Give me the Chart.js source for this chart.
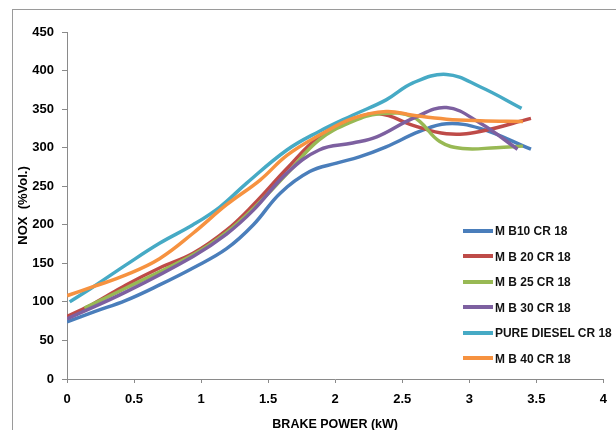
<!DOCTYPE html>
<html>
<head>
<meta charset="utf-8">
<script src="https://cdn.jsdelivr.net/npm/chart.js@4.4.1/dist/chart.umd.min.js"></script>
<style>
  html, body { margin: 0; padding: 0; background: #fff; overflow: hidden; }
  #wrap { position: relative; width: 616px; height: 430px; }
  #frame { position: absolute; left: 12px; top: 9px; width: 700px; height: 500px; border: 1px solid #9a9a9a; }
  #chart { position: absolute; left: 0; top: 0; }
  #legend { position: absolute; left: 463px; top: 218px; font: bold 13px "Liberation Sans", Arial, sans-serif; color: #111; }
  .item { height: 25.5px; display: flex; align-items: center; white-space: nowrap; }
  .swatch { width: 30px; height: 4px; margin-right: 2px; flex: none; }
  .text { display: inline-block; transform: scaleX(0.92); transform-origin: left center; }
</style>
</head>
<body>
<div id="wrap">
  <div id="frame"></div>
  <canvas id="chart" width="616" height="430"></canvas>
  <div id="legend"></div>
</div>
<script>
// series names
const seriesNames = ['M B10 CR 18', 'M B 20 CR 18', 'M B 25 CR 18', 'M B 30 CR 18', 'PURE DIESEL CR 18', 'M B 40 CR 18'];
const seriesColors = ['#4a7ebb', '#be4b48', '#98b954', '#7d60a0', '#46aac5', '#f69240'];

// brake power (kW) and NOx values
const mb10X = [0, 0.2, 0.44, 0.69, 0.94, 1.19, 1.39, 1.59, 1.81, 2.01, 2.18, 2.38, 2.63, 2.83, 3.08, 3.46];
const mb10Y = [74, 87, 102, 122, 144, 169, 200, 241, 269, 280, 288, 301, 321, 331, 325, 298];

const mb20X = [0, 0.2, 0.44, 0.69, 0.94, 1.19, 1.39, 1.64, 1.88, 2.13, 2.33, 2.58, 2.83, 3.08, 3.46];
const mb20Y = [81, 98, 122, 144, 163, 193, 226, 273, 314, 336, 344, 329, 318, 321, 338];

const mb25X = [0.13, 0.44, 0.94, 1.19, 1.39, 1.64, 1.88, 2.13, 2.33, 2.58, 2.78, 2.95, 3.2, 3.4];
const mb25Y = [92, 118, 161, 190, 221, 266, 310, 334, 344, 340, 308, 299, 300, 302];

const mb30X = [0, 0.44, 0.94, 1.19, 1.39, 1.64, 1.88, 2.13, 2.31, 2.58, 2.83, 3.08, 3.36];
const mb30Y = [78, 113, 159, 188, 219, 267, 297, 306, 314, 338, 352, 332, 298];

const dieselX = [0.02, 0.2, 0.44, 0.69, 0.94, 1.14, 1.34, 1.64, 1.88, 2.13, 2.38, 2.58, 2.83, 3.08, 3.39];
const dieselY = [100, 120, 148, 176, 200, 223, 254, 297, 321, 342, 362, 384, 395, 379, 351];

const mb40X = [0, 0.2, 0.44, 0.69, 0.94, 1.19, 1.44, 1.64, 1.88, 2.13, 2.38, 2.58, 2.83, 3.08, 3.4];
const mb40Y = [108, 120, 135, 156, 189, 226, 258, 290, 316, 338, 347, 342, 337, 335, 334];

const xValues = [mb10X, mb20X, mb25X, mb30X, dieselX, mb40X];
const yValues = [mb10Y, mb20Y, mb25Y, mb30Y, dieselY, mb40Y];

const fontFamily = '"Liberation Sans", Arial, sans-serif';
const axisColor = '#8a8a8a';

const datasets = seriesNames.map(function (name, i) {
  return {
    label: name,
    data: xValues[i].map(function (x, j) { return { x: x, y: yValues[i][j] }; }),
    borderColor: seriesColors[i],
    backgroundColor: seriesColors[i],
    borderWidth: 3.5,
    pointRadius: 0,
    tension: 0.4,
    fill: false,
    order: seriesNames.length - i   // later series drawn on top, like Excel
  };
});

const chart = new Chart(document.getElementById('chart').getContext('2d'), {
  type: 'line',
  data: { datasets: datasets },
  options: {
    responsive: false,
    animation: false,
    layout: { padding: { top: 32, right: 12, left: 0, bottom: 0 } },
    plugins: { legend: { display: false }, tooltip: { enabled: false } },
    scales: {
      x: {
        type: 'linear',
        min: 0,
        max: 4,
        ticks: { stepSize: 0.5, color: '#000', padding: 9, font: { family: fontFamily, size: 13, weight: 'bold' },
                 callback: function (v) { return String(Number(v)); } },
        grid: { drawOnChartArea: false, drawTicks: true, tickLength: 4, color: axisColor },
        border: { color: axisColor, width: 1 },
        title: { display: true, text: 'BRAKE POWER (kW)', color: '#000', padding: { top: 0, bottom: -2 },
                 font: { family: fontFamily, size: 12.5, weight: 'bold' } },
        afterFit: function (scale) { scale.height = 51; }
      },
      y: {
        min: 0,
        max: 450,
        ticks: { stepSize: 50, color: '#000', padding: 8, font: { family: fontFamily, size: 13, weight: 'bold' } },
        grid: { drawOnChartArea: false, drawTicks: true, tickLength: 5, color: axisColor },
        border: { color: axisColor, width: 1 },
        title: { display: true, text: 'NOX  (%Vol.)', color: '#000', padding: { top: 16, bottom: 0 },
                 font: { family: fontFamily, size: 13, weight: 'bold' } },
        afterFit: function (scale) { scale.width = 67; }
      }
    }
  }
});

// legend drawn as html, sitting inside the plot at the lower right
const legendBox = document.getElementById('legend');
seriesNames.forEach(function (name, i) {
  const item = document.createElement('div');
  item.className = 'item';
  const swatch = document.createElement('span');
  swatch.className = 'swatch';
  swatch.style.background = seriesColors[i];
  item.appendChild(swatch);
  const label = document.createElement('span');
  label.className = 'text';
  label.textContent = name;
  item.appendChild(label);
  legendBox.appendChild(item);
});
</script>
</body>
</html>
